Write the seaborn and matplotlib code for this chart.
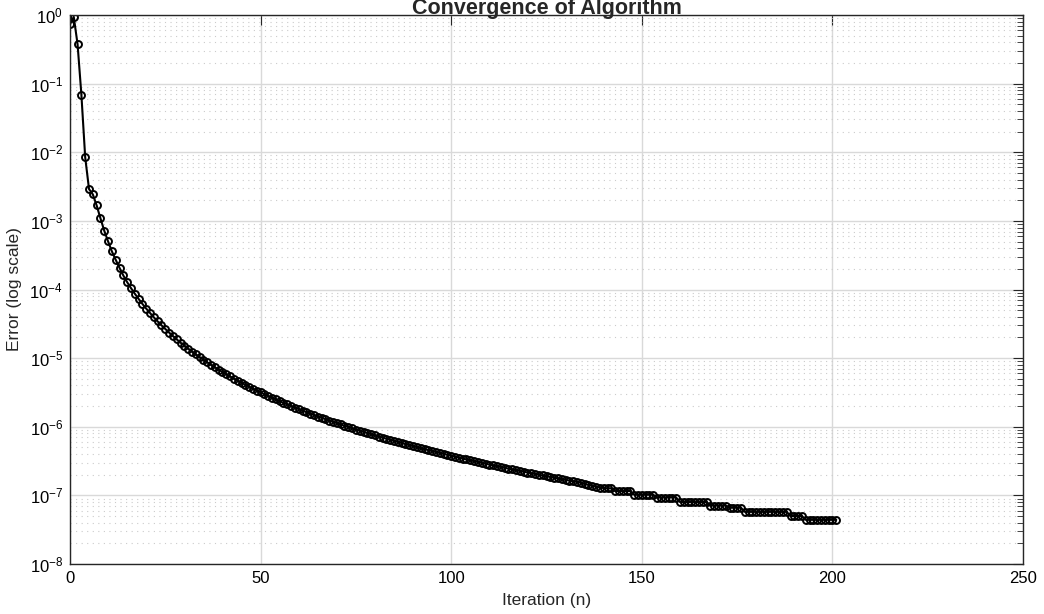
import numpy as np
import matplotlib
matplotlib.use("Agg")
import matplotlib.pyplot as plt
import seaborn as sns
from matplotlib.ticker import LogLocator, MultipleLocator, NullFormatter

# ---- data ----
iterations = list(range(202))
errors = [
    0.73, 0.94, 0.374, 0.0689, 0.00843, 0.00291, 0.00243, 0.00168, 0.00109, 7.18e-4,
    5.02e-4, 3.59e-4, 2.71e-4, 2.07e-4, 1.60e-4, 1.28e-4, 1.05e-4, 8.7e-5, 7.3e-5, 6.17e-5,
    5.27e-5, 4.54e-5, 3.93e-5, 3.43e-5, 3.01e-5, 2.66e-5, 2.36e-5, 2.10e-5, 1.88e-5, 1.68e-5,
    1.52e-5, 1.37e-5, 1.245e-5, 1.13e-5, 1.03e-5, 9.46e-6, 8.67e-6, 7.97e-6, 7.35e-6, 6.78e-6,
    6.28e-6, 5.82e-6, 5.40e-6, 5.03e-6, 4.68e-6, 4.37e-6, 4.09e-6, 3.83e-6, 3.59e-6, 3.37e-6,
    3.16e-6, 2.98e-6, 2.80e-6, 2.65e-6, 2.50e-6, 2.36e-6, 2.23e-6, 2.12e-6, 2.01e-6, 1.90e-6,
    1.81e-6, 1.72e-6, 1.63e-6, 1.56e-6, 1.48e-6, 1.41e-6, 1.35e-6, 1.29e-6, 1.23e-6, 1.18e-6,
    1.13e-6, 1.08e-6, 1.03e-6, 9.90e-7, 9.49e-7, 9.11e-7, 8.75e-7, 8.40e-7, 8.08e-7, 7.77e-7,
    7.47e-7, 7.19e-7, 6.93e-7, 6.68e-7, 6.44e-7, 6.21e-7, 5.98e-7, 5.78e-7, 5.58e-7, 5.39e-7,
    5.21e-7, 5.03e-7, 4.87e-7, 4.71e-7, 4.56e-7, 4.41e-7, 4.27e-7, 4.14e-7, 4.01e-7, 3.89e-7,
    3.77e-7, 3.65e-7, 3.54e-7, 3.44e-7, 3.34e-7, 3.24e-7, 3.15e-7, 3.06e-7, 2.97e-7, 2.89e-7,
    2.81e-7, 2.73e-7, 2.66e-7, 2.59e-7, 2.52e-7, 2.45e-7, 2.39e-7, 2.33e-7, 2.27e-7, 2.21e-7,
    2.15e-7, 2.10e-7, 2.05e-7, 2.00e-7, 1.95e-7, 1.90e-7, 1.85e-7, 1.81e-7, 1.77e-7, 1.72e-7,
    1.68e-7, 1.64e-7, 1.61e-7, 1.57e-7, 1.53e-7, 1.46e-7, 1.42e-7, 1.38e-7, 1.34e-7, 1.30e-7,
    1.28e-7, 1.27e-7, 1.27e-7, 1.16e-7, 1.16e-7, 1.16e-7, 1.16e-7, 1.16e-7, 1.02e-7, 1.02e-7,
    1.02e-7, 1.02e-7, 1.02e-7, 1.02e-7, 9.3e-8, 9.3e-8, 9.3e-8, 9.3e-8, 9.3e-8, 9.3e-8,
    8.0e-8, 8.0e-8, 8.0e-8, 8.0e-8, 8.0e-8, 8.0e-8, 8.0e-8, 8.0e-8, 7.1e-8, 7.1e-8,
    7.1e-8, 7.1e-8, 7.1e-8, 6.6e-8, 6.6e-8, 6.6e-8, 6.6e-8, 5.75e-8, 5.75e-8, 5.75e-8,
    5.75e-8, 5.75e-8, 5.75e-8, 5.75e-8, 5.75e-8, 5.75e-8, 5.75e-8, 5.75e-8, 5.75e-8, 5.0e-8,
    5.0e-8, 5.0e-8, 5.0e-8, 4.4e-8, 4.4e-8, 4.4e-8, 4.4e-8, 4.4e-8, 4.4e-8, 4.4e-8,
    4.4e-8, 4.4e-8,
]
title_text = "Convergence of Algorithm"
x_label = "Iteration (n)"
y_label = "Error (log scale)"

sns.set_style("white")
plt.rcParams["font.family"] = ["Liberation Sans", "DejaVu Sans"]
plt.rcParams["axes.unicode_minus"] = False

fig = plt.figure(figsize=(10.44, 6.14), dpi=100)
ax = fig.add_axes([0.067, 0.0814, 0.913, 0.8942])

sns.lineplot(x=iterations, y=errors, ax=ax, color="black", linewidth=1.5,
             marker="o", markersize=5, markerfacecolor="none",
             markeredgecolor="black", markeredgewidth=1.4)

ax.set_yscale("log")
ax.set_xlim(0, 250)
ax.set_ylim(1e-8, 1)
ax.xaxis.set_major_locator(MultipleLocator(50))
ax.yaxis.set_major_locator(LogLocator(base=10, numticks=20))
ax.yaxis.set_minor_locator(LogLocator(base=10, subs=np.arange(2, 10), numticks=20))
ax.yaxis.set_minor_formatter(NullFormatter())

ax.set_axisbelow(True)
ax.grid(True, which="major", color="#d9d9d9", linewidth=1.0, linestyle="-")
ax.grid(True, which="minor", axis="y", color="#cbcbcb", linestyle=(0, (1, 4)), linewidth=0.8)

ax.tick_params(which="both", direction="in", top=True, right=True,
               colors="#262626", labelcolor="black")
ax.tick_params(which="major", length=7, labelsize=12, pad=5)
ax.tick_params(which="minor", length=4)
for sp in ax.spines.values():
    sp.set_color("#262626")
    sp.set_linewidth(1.0)

ax.set_xlabel(x_label, fontsize=12.5, labelpad=5)
ax.set_ylabel(y_label, fontsize=12.5, labelpad=5)
ax.set_title(title_text, fontsize=15.5, fontweight="bold", pad=1)

fig.savefig("out.png", dpi=100)
